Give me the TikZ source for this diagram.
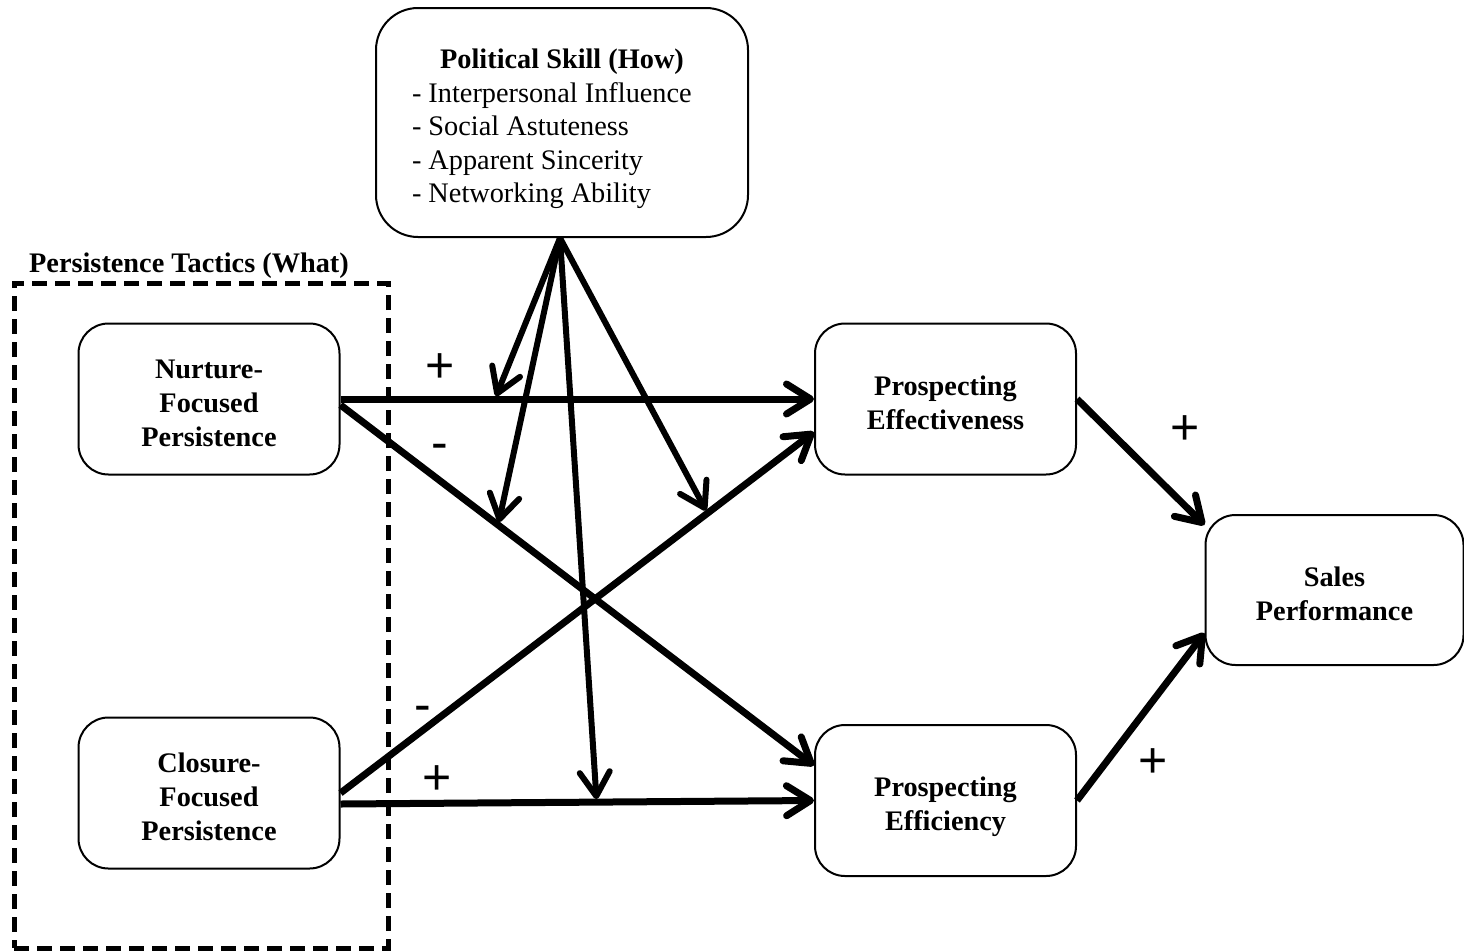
\documentclass[tikz,border=0pt]{standalone}
\usepackage{fontspec}
\setmainfont{Liberation Serif}
\newfontfamily\signfont{Liberation Sans}
\usetikzlibrary{arrows.meta}

% struts that keep the text blocks at the same optical height in every box
\newcommand{\topstrut}{\rule{0pt}{33pt}}
\newcommand{\botstrut}{\rule[-7pt]{0pt}{7pt}}

\begin{document}
\begin{tikzpicture}[x=1pt,y=-1pt,
  box/.style={draw, line width=2pt, rounded corners=30pt, fill=white,
    minimum width=261pt, minimum height=151pt, align=center, inner sep=0pt,
    font=\bfseries\fontsize{28.3}{34}\selectfont},
  link/.style={line width=7pt, -{Straight Barb[length=24pt,width=30pt,round]}},
  moderator/.style={line width=6pt, -{Straight Barb[length=24pt,width=30pt,round]},
    shorten >=3pt},
  sign/.style={font=\signfont\fontsize{50}{50}\selectfont, inner sep=0pt, anchor=base},
  group/.style={draw, line width=5pt, dash pattern=on 15pt off 8pt,
    minimum width=374pt, minimum height=665pt, inner sep=0pt}
]
\useasboundingbox (0,0) rectangle (1464,951);

% persistence tactics group
\node[group] (grp) at (201,615.5) {};
\node[font=\bfseries\fontsize{28.3}{34}\selectfont] (grplabel) at (189,266)
  {Persistence Tactics (What)};

% constructs
\node[box, rounded corners=42pt, minimum width=372pt, minimum height=229pt,
  font=\fontsize{28.3}{33.5}\selectfont] (pol) at (562,122.5)
  {\topstrut\textbf{Political Skill (How)}\\
   \makebox[300pt][l]{- Interpersonal Influence}\\
   \makebox[300pt][l]{- Social Astuteness}\\
   \makebox[300pt][l]{- Apparent Sincerity}\\
   \makebox[300pt][l]{- Networking Ability}\botstrut};
\node[box] (nur) at (209,399) {\topstrut Nurture-\\Focused\\Persistence\botstrut};
\node[box] (clo) at (209,793) {\topstrut Closure-\\Focused\\Persistence\botstrut};
\node[box] (eff) at (945.5,399) {\topstrut Prospecting\\Effectiveness\botstrut};
\node[box] (effi) at (945.5,800.5) {\topstrut Prospecting\\Efficiency\botstrut};
\node[box, minimum width=258pt, minimum height=150pt] (sal) at (1334.5,590)
  {\topstrut Sales\\Performance\botstrut};

% direct effects
\draw[link] (nur.east) -- (eff.west) coordinate[pos=0.326] (m1);
\draw[link] ([yshift=-6pt]nur.east) -- ([yshift=35pt]effi.west) coordinate[pos=0.333] (m2);
\draw[link] (clo.east) -- ([yshift=-33pt]eff.west) coordinate[pos=0.775] (m4);
\draw[link] ([yshift=-11pt]clo.east) -- (effi.west) coordinate[pos=0.541] (m3);
\draw[link] (eff.east) -- ([yshift=65pt]sal.west);
\draw[link] (effi.east) -- ([yshift=-43pt]sal.west);

% moderating effects of political skill
\coordinate (apex) at ([xshift=-2pt]pol.south);
\foreach \t in {m1,m2,m3,m4} \draw[moderator] (apex) -- (\t);

% signs of the effects
\node[sign] (s1) at (440,382.7) {+};
\node[sign] (s2) at (440,459.5) {-};
\node[sign] (s3) at (423,721.5) {-};
\node[sign] (s4) at (437,794.7) {+};
\node[sign] (s5) at (1185,444.7) {+};
\node[sign] (s6) at (1153,777.7) {+};
\end{tikzpicture}
\end{document}
